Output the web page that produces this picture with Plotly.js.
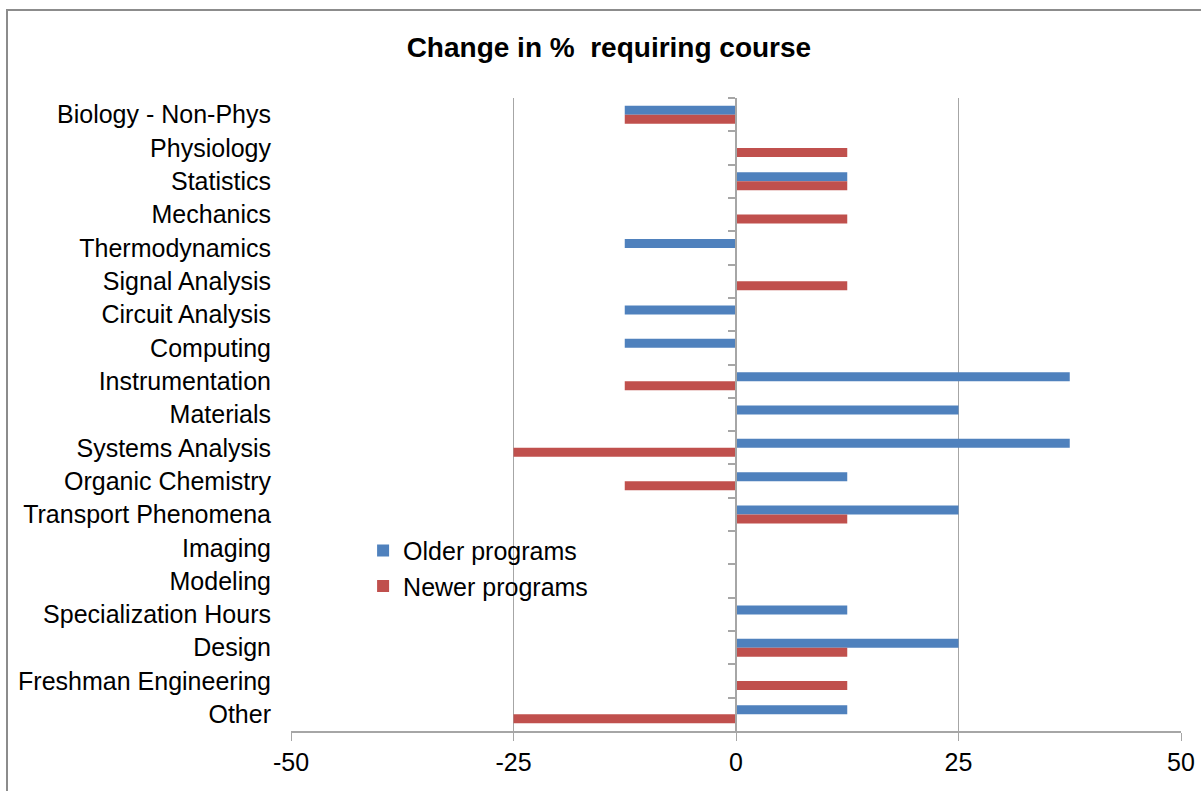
<!DOCTYPE html>
<html>
<head>
<meta charset="utf-8">
<script src="https://cdn.plot.ly/plotly-3.0.1.min.js"></script>
<style>
  html, body { margin: 0; padding: 0; background: #fff; overflow: hidden; }
  #frame { position: absolute; left: 6px; top: 9px; width: 1300px; height: 900px; border: 2px solid #8c8c8c; box-sizing: border-box; }
  #chart { position: absolute; left: 0; top: 0; width: 1201px; height: 791px; }
</style>
</head>
<body>
<div id="frame"></div>
<div id="chart"></div>
<script>
const categories = [
  "Biology - Non-Phys", "Physiology", "Statistics", "Mechanics", "Thermodynamics",
  "Signal Analysis", "Circuit Analysis", "Computing", "Instrumentation", "Materials",
  "Systems Analysis", "Organic Chemistry", "Transport Phenomena", "Imaging", "Modeling",
  "Specialization Hours", "Design", "Freshman Engineering", "Other"
];
const olderPrograms = [-12.5, 0, 12.5, 0, -12.5, 0, -12.5, -12.5, 37.5, 25, 37.5, 12.5, 25, 0, 0, 12.5, 25, 0, 12.5];
const newerPrograms = [-12.5, 12.5, 12.5, 12.5, 0, 12.5, 0, 0, -12.5, 0, -25, -12.5, 12.5, 0, 0, 0, 12.5, 12.5, -25];
const xTicks = [-50, -25, 0, 25, 50];

const font = "Liberation Sans, Arial, sans-serif";
const traces = [
  { type: "bar", orientation: "h", name: "Older programs", y: categories, x: olderPrograms,
    marker: { color: "#4F81BD" }, hoverinfo: "x+y" },
  { type: "bar", orientation: "h", name: "Newer programs", y: categories, x: newerPrograms,
    marker: { color: "#C0504D" }, hoverinfo: "x+y" }
];

const layout = {
  width: 1201, height: 791,
  paper_bgcolor: "rgba(0,0,0,0)", plot_bgcolor: "rgba(0,0,0,0)",
  margin: { l: 291, r: 20, t: 98, b: 60 },
  font: { family: font, size: 25, color: "#000" },
  title: { text: "<b>Change in %  requiring course</b>", x: 0.507, xanchor: "center", y: 0.94, yanchor: "middle",
           font: { family: font, size: 28, color: "#000" } },
  barmode: "group", bargap: 0.46, bargroupgap: 0,
  showlegend: true,
  legend: { x: 0.081, y: 0.321, xanchor: "left", yanchor: "top", traceorder: "normal",
            bgcolor: "rgba(0,0,0,0)", font: { family: font, size: 25 }, itemwidth: 30, tracegroupgap: 0 },
  xaxis: {
    range: [-50, 50], tickvals: xTicks, ticktext: xTicks.map(String),
    showgrid: true, gridcolor: "#a6a6a6", gridwidth: 1,
    zeroline: false, showline: true, linecolor: "#a6a6a6", linewidth: 2,
    ticks: "outside", ticklen: 8, tickcolor: "#a6a6a6", tickwidth: 1,
    tickfont: { family: font, size: 25 }, fixedrange: true
  },
  yaxis: {
    type: "category", categoryorder: "array", categoryarray: categories,
    autorange: "reversed", showgrid: false, zeroline: false, showline: false,
    ticks: "", ticklabelstandoff: 19, tickfont: { family: font, size: 25 }, fixedrange: true
  },
  yaxis2: {
    type: "category", categoryorder: "array", categoryarray: categories,
    overlaying: "y", matches: "y", anchor: "free", position: 0.5, side: "left",
    showticklabels: false, showgrid: false, zeroline: false,
    showline: true, linecolor: "#a6a6a6", linewidth: 2,
    ticks: "outside", tickson: "boundaries", ticklen: 7, tickcolor: "#a6a6a6", tickwidth: 2,
    fixedrange: true
  }
};

// invisible trace to drive the axis at zero (boundary ticks)
traces.push({ type: "bar", orientation: "h", y: categories, x: categories.map(() => null),
              yaxis: "y2", showlegend: false, hoverinfo: "skip" });

Plotly.newPlot("chart", traces, layout, { displayModeBar: false, staticPlot: true });
</script>
</body>
</html>
